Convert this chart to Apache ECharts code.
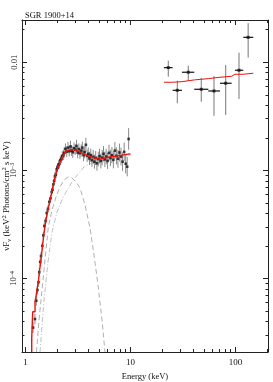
<!DOCTYPE html>
<html><head><meta charset="utf-8">
<script src="https://cdn.jsdelivr.net/npm/echarts@6/dist/echarts.min.js"></script>
<style>html,body{margin:0;padding:0;background:#fff}#c{width:273px;height:382px}</style>
</head><body><div id="c"></div>
<script>
// ---- data ----
const title = 'SGR 1900+14';
const xTitle = 'Energy (keV)';
const xTickMajor = [1, 10, 100];
const xTickMinor = [2,3,4,5,6,7,8,9,20,30,40,50,60,70,80,90,200];
const yTickMajor = [1e-4, 1e-3, 1e-2];
const yTickMinor = [3e-5,4e-5,5e-5,6e-5,7e-5,8e-5,9e-5,2e-4,3e-4,4e-4,5e-4,6e-4,7e-4,8e-4,9e-4,2e-3,3e-3,4e-3,5e-3,6e-3,7e-3,8e-3,9e-3,2e-2];

// low-energy spectrum (keV, nuFnu) and fractional errors
const lowE = [1.18,1.23,1.267,1.30,1.33,1.353,1.38,1.405,1.445,1.477,1.51,1.551,1.592,1.638,1.685,1.73,1.776,1.808,1.84,1.877,1.91,1.944,1.982,2.017,2.062,2.098,2.145,2.193,2.241,2.291,
  2.33,2.40,2.47,2.54,2.61,2.68,2.75,2.82,2.90,2.98,3.06,3.14,3.22,3.30,3.39,3.48,3.57,3.66,3.76,3.86,3.96,4.07,4.18,4.29,4.41,4.53,4.66,4.79,4.93,5.07,5.22,5.37,5.53,5.70,5.87,6.05,6.24,6.44,6.65,6.87,7.10,7.34,7.59,7.85,8.12,8.40,8.70,9.00,9.30,9.60];
const lowV = [3.5e-5,4.2e-5,6.2e-5,7.8e-5,9.2e-5,1.14e-4,1.42e-4,1.61e-4,2.0e-4,2.5e-4,3.05e-4,3.4e-4,4.02e-4,4.4e-4,5.1e-4,5.5e-4,6.3e-4,6.6e-4,7.4e-4,8.0e-4,8.8e-4,9.1e-4,1.02e-3,1.06e-3,1.12e-3,1.14e-3,1.24e-3,1.28e-3,1.35e-3,1.38e-3,
  1.45e-3,1.58e-3,1.49e-3,1.62e-3,1.50e-3,1.66e-3,1.52e-3,1.47e-3,1.60e-3,1.55e-3,1.68e-3,1.46e-3,1.57e-3,1.44e-3,1.52e-3,1.62e-3,1.38e-3,1.47e-3,1.72e-3,1.36e-3,1.42e-3,1.29e-3,1.38e-3,1.24e-3,1.33e-3,1.20e-3,1.30e-3,1.16e-3,1.27e-3,1.35e-3,1.22e-3,1.31e-3,1.42e-3,1.26e-3,1.34e-3,1.22e-3,1.45e-3,1.30e-3,1.38e-3,1.25e-3,1.52e-3,1.36e-3,1.28e-3,1.46e-3,1.34e-3,1.20e-3,1.48e-3,1.15e-3,1.08e-3,1.95e-3];
const lowErr = [0.12,0.12,0.11,0.10,0.10,0.09,0.09,0.09,0.08,0.08,0.08,0.08,0.08,0.08,0.08,0.08,0.08,0.08,0.09,0.09,0.09,0.09,0.09,0.10,0.10,0.10,0.10,0.10,0.11,0.11,
  0.12,0.12,0.12,0.13,0.12,0.13,0.12,0.13,0.13,0.12,0.14,0.13,0.13,0.13,0.14,0.14,0.14,0.14,0.16,0.14,0.15,0.15,0.15,0.15,0.16,0.16,0.16,0.17,0.17,0.17,0.17,0.18,0.18,0.18,0.18,0.19,0.19,0.19,0.19,0.20,0.20,0.20,0.21,0.21,0.21,0.22,0.22,0.23,0.23,0.26];

// high-energy spectrum
const hiE   = [22.9, 27.9, 35.5, 47.2, 62.4, 80.7, 108, 132];
const hiELo = [20.8, 25.2, 30.9, 40.5, 55.1, 71.2, 98.9, 118.7];
const hiEHi = [25.2, 30.9, 40.5, 55.1, 71.2, 92.0, 118.7, 147.7];
const hiV   = [8.91e-3, 5.5e-3, 8.08e-3, 5.62e-3, 5.42e-3, 6.39e-3, 8.43e-3, 1.70e-2];
const hiVLo = [7.35e-3, 4.17e-3, 6.76e-3, 4.31e-3, 3.19e-3, 3.25e-3, 4.57e-3, 1.104e-2];
const hiVHi = [1.034e-2, 6.76e-3, 9.3e-3, 7.16e-3, 7.47e-3, 9.44e-3, 1.227e-2, 2.30e-2];
const hiModel = [6.53e-3, 6.61e-3, 6.86e-3, 7.05e-3, 7.26e-3, 7.42e-3, 7.74e-3, 7.91e-3];

// total model, low energies
const modelE = [1.146,1.146,1.171,1.171,1.232,1.232,1.25,1.29,1.33,1.36,1.40,1.44,1.48,1.52,1.56,1.60,1.65,1.70,1.75,1.80,1.85,1.90,1.95,2.00,2.06,2.12,2.19,2.27,2.37,2.50,2.65,2.80,2.96,3.13,3.30,3.50,3.69,3.94,4.20,4.50,4.90,5.30,5.70,6.20,6.70,7.30,7.90,8.60,9.40,10.0];
const modelV = [2.08e-5,2.8e-5,2.8e-5,4.9e-5,4.9e-5,6.2e-5,6.5e-5,8.0e-5,9.6e-5,1.18e-4,1.45e-4,1.85e-4,2.35e-4,2.85e-4,3.35e-4,3.85e-4,4.5e-4,5.1e-4,5.8e-4,6.6e-4,7.5e-4,8.4e-4,9.3e-4,1.01e-3,1.09e-3,1.17e-3,1.26e-3,1.36e-3,1.46e-3,1.52e-3,1.545e-3,1.545e-3,1.54e-3,1.51e-3,1.475e-3,1.43e-3,1.40e-3,1.36e-3,1.33e-3,1.30e-3,1.275e-3,1.28e-3,1.30e-3,1.32e-3,1.335e-3,1.35e-3,1.37e-3,1.39e-3,1.41e-3,1.415e-3];

// model components
const bbE = [1.273,1.345,1.436,1.533,1.649,1.788,1.952,2.131,2.326,2.540,2.773,3.027,3.304,3.687,4.115,4.492,4.904,5.354,5.716];
const bbV = [2.08e-5,4.11e-5,7.80e-5,1.476e-4,2.99e-4,4.29e-4,5.66e-4,7.0e-4,8.13e-4,8.67e-4,8.49e-4,7.80e-4,6.86e-4,4.78e-4,2.92e-4,1.644e-4,8.67e-5,4.11e-5,2.08e-5];
const c2E = [1.374,1.501,1.638,1.788,1.995,2.227,2.485,2.773,3.162,3.607,4.298,5.124,6.379,7.943,9.89];
const c2V = [2.08e-5,6.30e-5,1.416e-4,2.68e-4,4.11e-4,5.31e-4,6.57e-4,7.80e-4,9.24e-4,1.074e-3,1.17e-3,1.219e-3,1.273e-3,1.328e-3,1.387e-3];

const xMin = 0.926, xMax = 204, yMin = 2.08e-5, yMax = 0.0246;
// ---- chart ----
const FONT = 'Liberation Serif';
const chart = echarts.init(document.getElementById('c'), null, {renderer: 'canvas'});
const zip = (a, b) => a.map((v, i) => [v, b[i]]);
const lowErrData = lowE.map((e, i) => [e, lowV[i], e, e, lowV[i] / (1 + lowErr[i]), lowV[i] * (1 + lowErr[i])]);
const hiErrData = hiE.map((e, i) => [e, hiV[i], hiELo[i], hiEHi[i], hiVLo[i], hiVHi[i]]);
const hiModelLine = [];
hiModel.forEach((v, i) => { hiModelLine.push([hiELo[i], v], [hiEHi[i], v]); });

function errRender(color, hColor) {
  return function (params, api) {
    const t = api.coord([api.value(0), api.value(5)]);
    const b = api.coord([api.value(0), api.value(4)]);
    const l = api.coord([api.value(2), api.value(1)]);
    const r = api.coord([api.value(3), api.value(1)]);
    const ch = [{type: 'line', shape: {x1: t[0], y1: t[1], x2: b[0], y2: b[1]}, style: {stroke: color, lineWidth: 1}}];
    if (r[0] - l[0] > 1) ch.push({type: 'line', shape: {x1: l[0], y1: l[1], x2: r[0], y2: r[1]}, style: {stroke: hColor, lineWidth: 1.2}});
    return {type: 'group', children: ch};
  };
}

const axisCommon = {type: 'log', logBase: 10, splitLine: {show: false}, minorTick: {show: false}};
function xAx(pos, vals, len, showLine, label) {
  return Object.assign({}, axisCommon, {
    position: pos, min: xMin, max: xMax,
    axisLine: {show: showLine, lineStyle: {color: '#222', width: 1}},
    axisTick: {show: true, inside: true, length: len, customValues: vals, lineStyle: {color: '#222', width: 1}},
    axisLabel: label ? {show: true, customValues: xTickMajor, formatter: v => String(Math.round(v)), fontFamily: FONT, fontSize: 9, color: '#111', margin: 6} : {show: false},
    name: label ? xTitle : '', nameLocation: 'middle', nameGap: 20,
    nameTextStyle: {fontFamily: FONT, fontSize: 8.5, color: '#111'}
  });
}
function yAx(pos, vals, len, showLine, label) {
  return Object.assign({}, axisCommon, {
    position: pos, min: yMin, max: yMax,
    axisLine: {show: showLine, lineStyle: {color: '#222', width: 1}},
    axisTick: {show: true, inside: true, length: len, customValues: vals, lineStyle: {color: '#222', width: 1}},
    axisLabel: label ? {show: true, customValues: yTickMajor, rotate: 90, margin: 3,
      formatter: v => v >= 0.0099 ? '{a|0.01}' : '{a|10}{s|' + (v > 5e-4 ? '−3' : '−4') + '}',
      rich: {a: {fontFamily: FONT, fontSize: 8.5, color: '#111'}, s: {fontFamily: FONT, fontSize: 6, color: '#111', verticalAlign: 'top', padding: [0, 0, 4, 0]}}} : {show: false}
  });
}

chart.setOption({
  animation: false,
  backgroundColor: '#fff',
  title: {text: title, left: 20, top: 6, textStyle: {fontFamily: FONT, fontSize: 8.5, fontWeight: 'normal', color: '#111'}},
  grid: {left: 22, right: 5, top: 20, bottom: 30, containLabel: false, outerBoundsMode: 'none'},
  graphic: [{
    type: 'text', x: 6.5, y: 196, rotation: Math.PI / 2,
    style: {
      text: '{a|νF}{s|ν}{a| (keV}{p|2}{a| Photons/cm}{p|2}{a| s keV)}',
      align: 'center', verticalAlign: 'middle',
      rich: {a: {fontFamily: FONT, fontSize: 9, fill: '#111'}, s: {fontFamily: FONT, fontSize: 6.5, fill: '#111', padding: [5, 0, 0, 0]}, p: {fontFamily: FONT, fontSize: 6.5, fill: '#111', padding: [0, 0, 5, 0]}}
    }
  }],
  xAxis: [xAx('bottom', xTickMajor, 5, true, true), xAx('bottom', xTickMinor, 3, false, false), xAx('top', xTickMajor, 5, true, false), xAx('top', xTickMinor, 3, false, false)],
  yAxis: [yAx('left', yTickMajor, 5, true, true), yAx('left', yTickMinor, 2.5, false, false), yAx('right', yTickMajor, 5, true, false), yAx('right', yTickMinor, 2.5, false, false)],
  series: [
    {type: 'line', data: zip(bbE, bbV), showSymbol: false, lineStyle: {color: '#b0b0b0', width: 1, type: [5, 3]}, z: 1},
    {type: 'line', data: zip(c2E, c2V), showSymbol: false, lineStyle: {color: '#c0c0c0', width: 1, type: [5, 2, 1, 2]}, z: 1},
    {type: 'custom', data: lowErrData, renderItem: errRender('#8a8a8a', '#333'), encode: {x: [0, 2, 3], y: [1, 4, 5]}, z: 2},
    {type: 'scatter', data: zip(lowE, lowV), symbol: 'rect', symbolSize: 2.6, itemStyle: {color: '#111'}, z: 3},
    {type: 'line', data: zip(modelE, modelV), showSymbol: false, lineStyle: {color: '#e8140c', width: 1.4}, z: 4},
    {type: 'custom', data: hiErrData, renderItem: errRender('#777', '#111'), encode: {x: [0, 2, 3], y: [1, 4, 5]}, z: 2},
    {type: 'scatter', data: zip(hiE, hiV), symbol: 'rect', symbolSize: 3, itemStyle: {color: '#111'}, z: 3},
    {type: 'line', data: hiModelLine, showSymbol: false, lineStyle: {color: '#e8140c', width: 1}, z: 4}
  ]
});
</script></body></html>
